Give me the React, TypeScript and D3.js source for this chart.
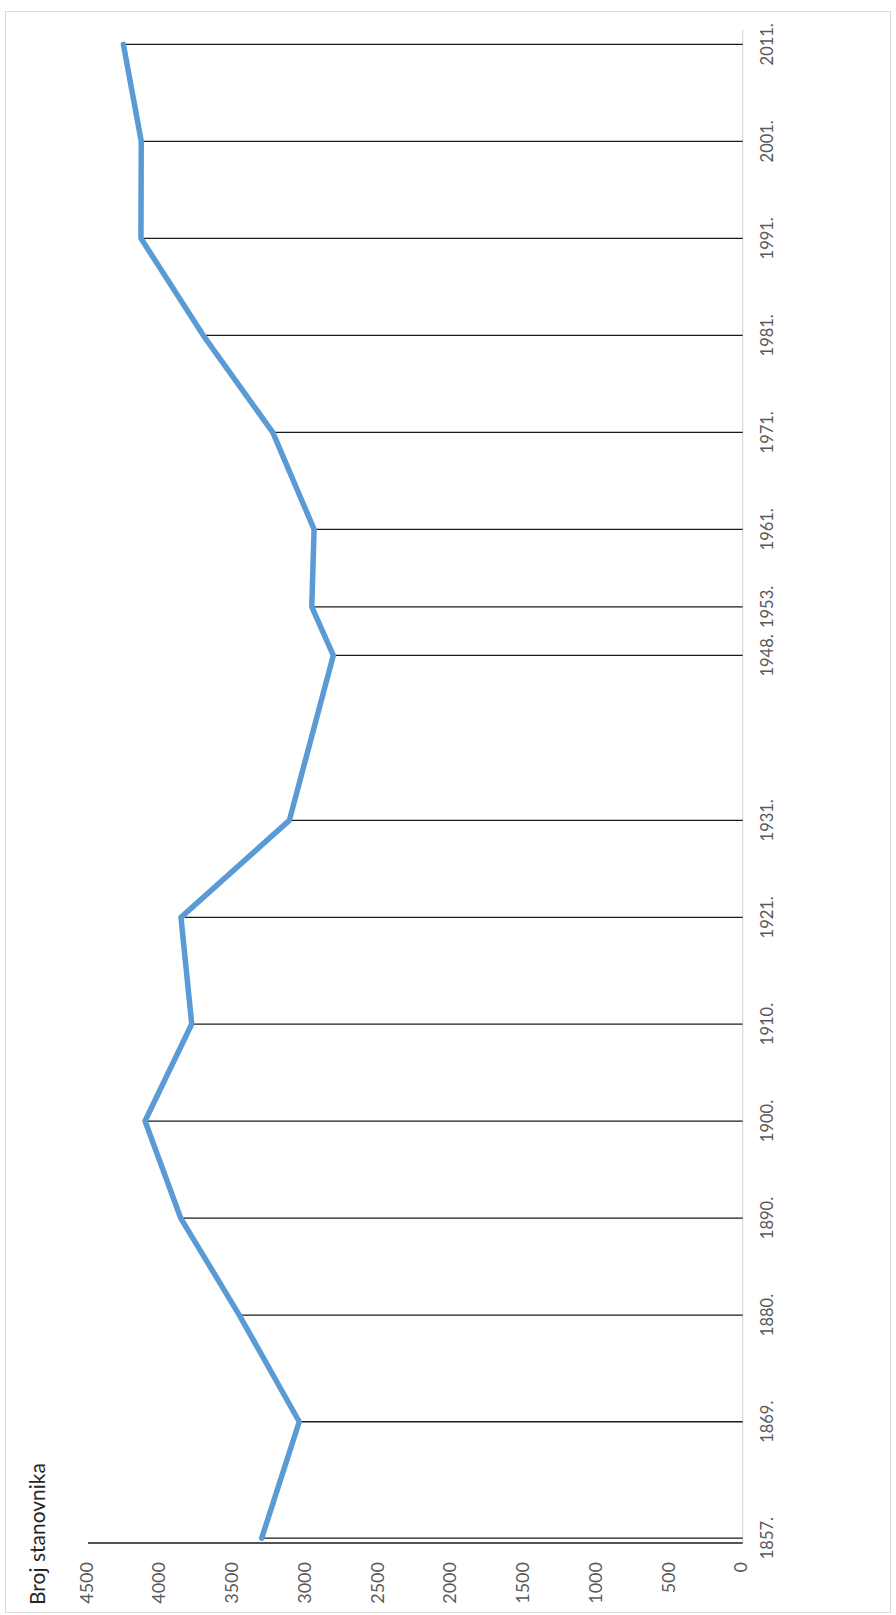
import * as d3 from "d3";

// census years and population ("Broj stanovnika")
const years = [1857, 1869, 1880, 1890, 1900, 1910, 1921, 1931, 1948, 1953, 1961, 1971, 1981, 1991, 2001, 2011];
const population = [3306, 3048, 3460, 3863, 4108, 3787, 3861, 3116, 2814, 2962, 2946, 3230, 3708, 4136, 4134, 4257];
const valueTicks = [0, 500, 1000, 1500, 2000, 2500, 3000, 3500, 4000, 4500];
const axisTitle = "Broj stanovnika";

const W = 896;
const H = 1615;

const App = () => {
  // chart is rotated: values grow to the left, years go bottom -> top
  const xScale = d3.scaleLinear().domain([0, 4500]).range([742.7, 88]);
  const yScale = d3.scaleLinear().domain([1856.5, 2012.5]).range([1543, 29.8]);

  const data = years.map((y, i) => ({ year: y, value: population[i] }));

  const line = d3
    .line<{ year: number; value: number }>()
    .x((d) => xScale(d.value))
    .y((d) => yScale(d.year));

  const x0 = xScale(0);
  const yBase = yScale(1856.5);
  const font = "Lato, 'Open Sans', sans-serif";

  return (
    <svg
      width={W}
      height={H}
      style={{ position: "absolute", left: 0, top: 0, background: "#fff" }}
    >
      {/* chart frame */}
      <rect x={5.5} y={11.5} width={885} height={1601} fill="#fff" stroke="#d9d9d9" strokeWidth={1} />

      {/* category (year) axis line */}
      <line x1={x0} x2={x0} y1={yScale(2012.5)} y2={yBase} stroke="#d9d9d9" strokeWidth={1.2} />

      {/* value axis line */}
      <line x1={xScale(4500)} x2={x0} y1={yBase} y2={yBase} stroke="#1a1a1a" strokeWidth={1.3} />

      {/* drop lines */}
      {data.map((d) => (
        <line
          key={"drop" + d.year}
          x1={xScale(d.value)}
          x2={x0}
          y1={yScale(d.year)}
          y2={yScale(d.year)}
          stroke="#1a1a1a"
          strokeWidth={1.3}
        />
      ))}

      {/* series line */}
      <path
        d={line(data) ?? ""}
        fill="none"
        stroke="#5b9bd5"
        strokeWidth={5.5}
        strokeLinejoin="round"
        strokeLinecap="round"
      />

      {/* value tick labels */}
      {valueTicks.map((v) => (
        <text
          key={"v" + v}
          transform={`translate(${xScale(v)},1562) rotate(-90)`}
          textAnchor="end"
          dominantBaseline="middle"
          fontFamily={font}
          fontSize={18}
          fill="#595959"
        >
          {v}
        </text>
      ))}

      {/* year labels */}
      {years.map((y) => (
        <text
          key={"y" + y}
          transform={`translate(769,${yScale(y)}) rotate(-90)`}
          textAnchor="middle"
          dominantBaseline="middle"
          fontFamily={font}
          fontSize={16.5}
          fill="#595959"
        >
          {y + "."}
        </text>
      ))}

      {/* axis title */}
      <text
        transform="translate(45,1605) rotate(-90)"
        textAnchor="start"
        fontFamily={font}
        fontSize={21}
        fill="#262626"
      >
        {axisTitle}
      </text>
    </svg>
  );
};

export default App;
